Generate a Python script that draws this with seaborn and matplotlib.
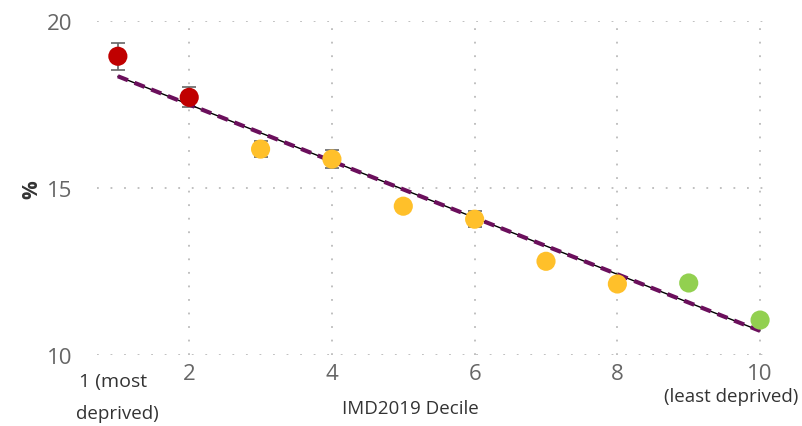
import numpy as np
import pandas as pd
import matplotlib
matplotlib.use('Agg')
import matplotlib.pyplot as plt
import seaborn as sns

# Data
decile = [1, 2, 3, 4, 5, 6, 7, 8, 9, 10]
pct = [18.95, 17.72, 16.17, 15.87, 14.46, 14.07, 12.81, 12.13, 12.16, 11.05]
err = [0.40, 0.30, 0.25, 0.27, 0.15, 0.24, 0.15, 0.15, 0.15, 0.15]
group = ['high', 'high', 'mid', 'mid', 'mid', 'mid', 'mid', 'mid', 'low', 'low']
group_colors = {'high': '#C00000', 'mid': '#FFC02A', 'low': '#92D050'}
tick_pos = [2, 4, 6, 8, 10]
tick_lbl = ['2', '4', '6', '8', '10']

df = pd.DataFrame({'decile': decile, 'pct': pct, 'err': err, 'group': group})

sns.set_style('white')
plt.rcParams['font.family'] = ['Open Sans', 'DejaVu Sans']

fig = plt.figure(figsize=(8.03, 4.27), dpi=100)
ax = fig.add_axes([0.121, 0.166, 0.838, 0.782])

# error bars
ax.errorbar(df['decile'], df['pct'], yerr=df['err'], fmt='none',
            ecolor='#666666', elinewidth=1.2, capsize=5, capthick=1.2, zorder=2)

# trend line: thin black under a thick dashed purple
sns.regplot(data=df, x='decile', y='pct', scatter=False, ci=None, truncate=True,
            line_kws={'color': 'black', 'lw': 1.0, 'zorder': 3}, ax=ax)
sns.regplot(data=df, x='decile', y='pct', scatter=False, ci=None, truncate=True,
            line_kws={'color': '#6B0F5C', 'lw': 3.0, 'ls': (0, (2.6, 1.7)), 'zorder': 4}, ax=ax)

sns.scatterplot(data=df, x='decile', y='pct', hue='group', palette=group_colors,
                s=190, linewidth=0, legend=False, zorder=5, ax=ax)

ax.set_xlim(0.71, 10.14)
ax.set_ylim(10, 20)
ax.set_yticks([10, 15, 20])
ax.set_xticks(tick_pos)
ax.set_xticklabels(tick_lbl)

# end labels for decile 1 and 10
xt = ax.get_xaxis_transform()
ax.text(0.93, -0.05, '1 (most', transform=xt, ha='center', va='top',
        fontsize=14, color='#333333')
ax.text(1.0, -0.145, 'deprived)', transform=xt, ha='center', va='top',
        fontsize=13.5, color='#333333')
ax.text(9.6, -0.095, '(least deprived)', transform=xt, ha='center', va='top',
        fontsize=13.5, color='#333333')

ax.tick_params(axis='y', labelsize=16, labelcolor='#666666', length=0, pad=18)
ax.tick_params(axis='x', labelsize=16, labelcolor='#666666', length=0, pad=6)

ax.grid(True, color='#BBBBBB', linestyle=(0, (1, 6.5)), linewidth=1.3)
for s in ax.spines.values():
    s.set_visible(False)

ax.set_xlabel('IMD2019 Decile', fontsize=13.5, color='#333333')
ax.xaxis.set_label_coords(0.466, -0.13)
ax.xaxis.label.set_va('top')
ax.set_ylabel('%', fontsize=15, color='#333333', fontweight='bold')
ax.yaxis.set_label_coords(-0.082, 0.5)

fig.savefig('out.png', dpi=100)
